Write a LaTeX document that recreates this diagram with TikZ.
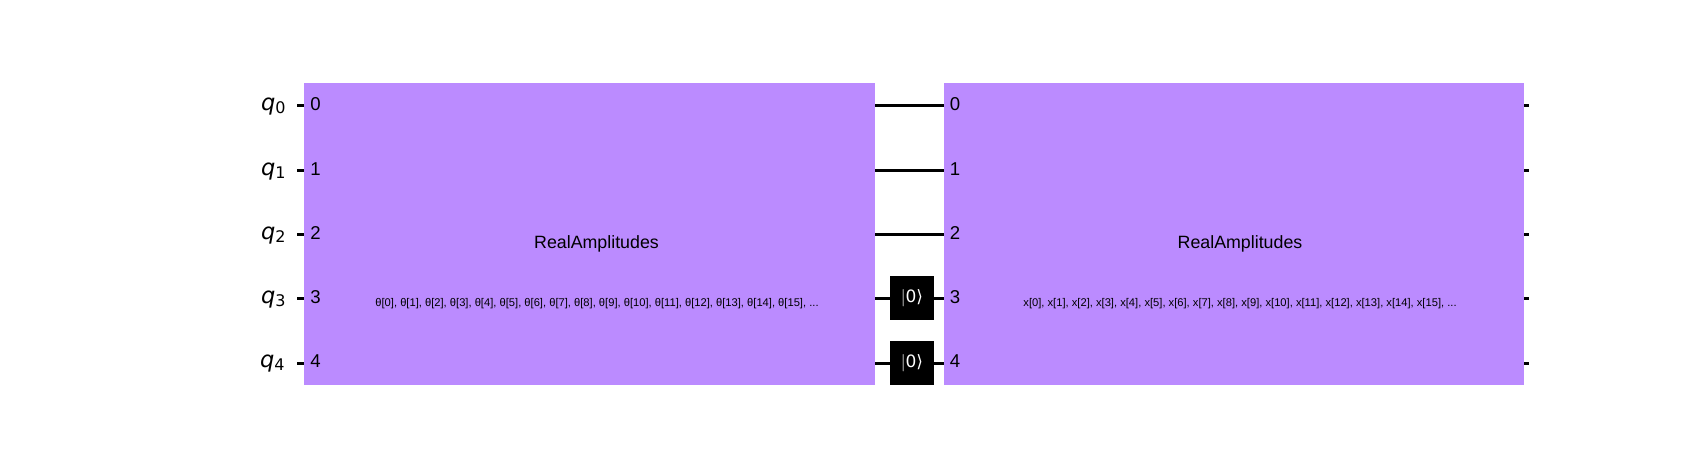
\documentclass[tikz,border=0pt]{standalone}
\usepackage{fontspec}
\setmainfont{Liberation Sans}
\newfontfamily\djv{DejaVu Sans}
\definecolor{gatepurple}{HTML}{BB8BFF}
\tikzset{
  x=1pt,y=-1pt,
  wire/.style={draw=black,line width=2.9pt},
  blockbox/.style={fill=gatepurple,draw=none,inner sep=0pt,outer sep=0pt,minimum height=302pt},
  resetbox/.style={fill=black,text=white,draw=none,inner sep=0pt,outer sep=0pt,minimum width=44pt,minimum height=44pt,font=\djv\fontsize{17}{17}\selectfont},
  qlabel/.style={inner sep=0pt,anchor=base west,font=\djv\fontsize{22.5}{22}\selectfont},
  idx/.style={inner sep=0pt,anchor=center,font=\fontsize{18.6}{19}\selectfont},
  title/.style={inner sep=0pt,anchor=center,font=\fontsize{17.8}{18}\selectfont},
  params/.style={inner sep=0pt,anchor=center,font=\fontsize{11.17}{12}\selectfont},
}
\begin{document}
\begin{tikzpicture}
\useasboundingbox (0,0) rectangle (1708,451);
\foreach \n/\y in {0/105.3,1/170.3,2/234.3,3/298.3,4/363.3}{
  \coordinate (w\n) at (297.3,\y);
  \coordinate (e\n) at (1529,\y);
}
\node[blockbox,minimum width=571pt] (blockA) at (589.5,234) {};
\node[blockbox,minimum width=580pt] (blockB) at (1234,234) {};
\node[resetbox] (resetA) at (912,298) {$|$0⟩};
\node[resetbox] (resetB) at (912,363) {$|$0⟩};
% wires
\foreach \n in {0,1,2,3,4}{
  \draw[wire] (w\n) -- (w\n -| blockA.west);
  \draw[wire] (e\n -| blockB.east) -- (e\n);
}
\foreach \n in {0,1,2}{
  \draw[wire] (w\n -| blockA.east) -- (w\n -| blockB.west);
}
\draw[wire] (w3 -| blockA.east) -- (w3 -| resetA.west);
\draw[wire] (w3 -| resetA.east) -- (w3 -| blockB.west);
\draw[wire] (w4 -| blockA.east) -- (w4 -| resetB.west);
\draw[wire] (w4 -| resetB.east) -- (w4 -| blockB.west);
% labels
\foreach \n/\y/\x in {0/110/261,1/175/261,2/239/261,3/303/261,4/367/260}{
  \node[qlabel] (q\n) at (\x,\y) {\itshape q\raisebox{-3pt}{\fontsize{16}{16}\selectfont\upshape\n}};
}
\foreach \n/\y in {0/104.5,1/169,2/233,3/297.5,4/361.5}{
  \node[idx] (ia\n) at (315.5,\y) {\n};
  \node[idx] (ib\n) at (955,\y) {\n};
}
\node[title] (titleA) at (596.5,243.5) {RealAmplitudes};
\node[title] (titleB) at (1240,243.5) {RealAmplitudes};
\node[params] (paramsA) at (597,304) {θ[0], θ[1], θ[2], θ[3], θ[4], θ[5], θ[6], θ[7], θ[8], θ[9], θ[10], θ[11], θ[12], θ[13], θ[14], θ[15], ...};
\node[params] (paramsB) at (1240,304) {x[0], x[1], x[2], x[3], x[4], x[5], x[6], x[7], x[8], x[9], x[10], x[11], x[12], x[13], x[14], x[15], ...};
\end{tikzpicture}
\end{document}
